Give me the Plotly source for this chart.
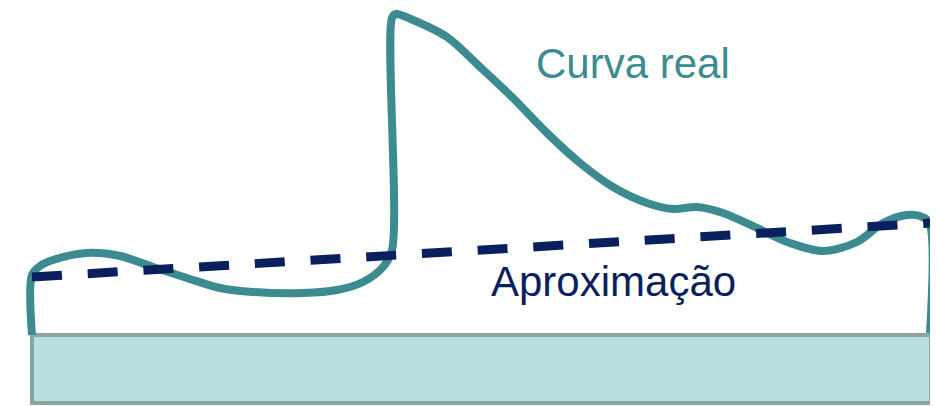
import plotly.graph_objects as go

# Real curve (diagram units: x to the right, y downward)
curve_x = [32, 32, 40, 53, 87, 120, 153, 187, 220, 253, 303, 337, 363, 383, 392,
           392, 396, 413, 447, 480, 513, 547, 580, 613, 647, 673, 697, 723, 757, 790, 823,
           857, 883, 907, 920, 929, 930]
curve_y = [335, 275, 266, 260, 253, 256, 267, 278, 288, 292, 293, 290, 282, 267, 250,
           18, 14, 20, 37, 67, 98, 133, 163, 187, 203, 209, 207, 213, 228, 243, 251,
           242, 223, 215, 216, 222, 333]

# Linear approximation
approx_x = [32, 931]
approx_y = [277, 223]

# Base block
base_x = [32, 931, 931, 32, 32]
base_y = [335, 335, 403, 403, 335]

labels = ["Curva real", "Aproximação"]
label_x = [534, 489]
label_y = [79, 297]

# the page body has an 8px margin, so the view window is offset by it
OFF = 8
W, H = 938, 406

fig = go.Figure()
fig.add_trace(go.Scatter(x=base_x, y=base_y, mode="lines", fill="toself",
                         fillcolor="#b9dfe2", line=dict(color="#8ba3a5", width=4),
                         hoverinfo="skip", showlegend=False))
fig.add_trace(go.Scatter(x=curve_x, y=curve_y, mode="lines",
                         line=dict(color="#3c8b91", width=8, shape="spline", smoothing=0.9),
                         showlegend=False))
fig.add_trace(go.Scatter(x=approx_x, y=approx_y, mode="lines",
                         line=dict(color="#0a1f5e", width=9, dash="30px,25.8px"),
                         showlegend=False))

colors = ["#3c8b91", "#0a1f5e"]
for t, x, y, c in zip(labels, label_x, label_y, colors):
    fig.add_annotation(x=x, y=y, text=t, showarrow=False, xanchor="left", yanchor="bottom",
                       yshift=-10, font=dict(family="Liberation Sans, Arial", size=42, color=c))

fig.update_layout(width=W - OFF, height=H - OFF, margin=dict(l=0, r=0, t=0, b=0, pad=0),
                  plot_bgcolor="white", paper_bgcolor="white",
                  xaxis=dict(range=[OFF, W], visible=False, fixedrange=True),
                  yaxis=dict(range=[H, OFF], visible=False, fixedrange=True))
fig.write_html("out.html")
